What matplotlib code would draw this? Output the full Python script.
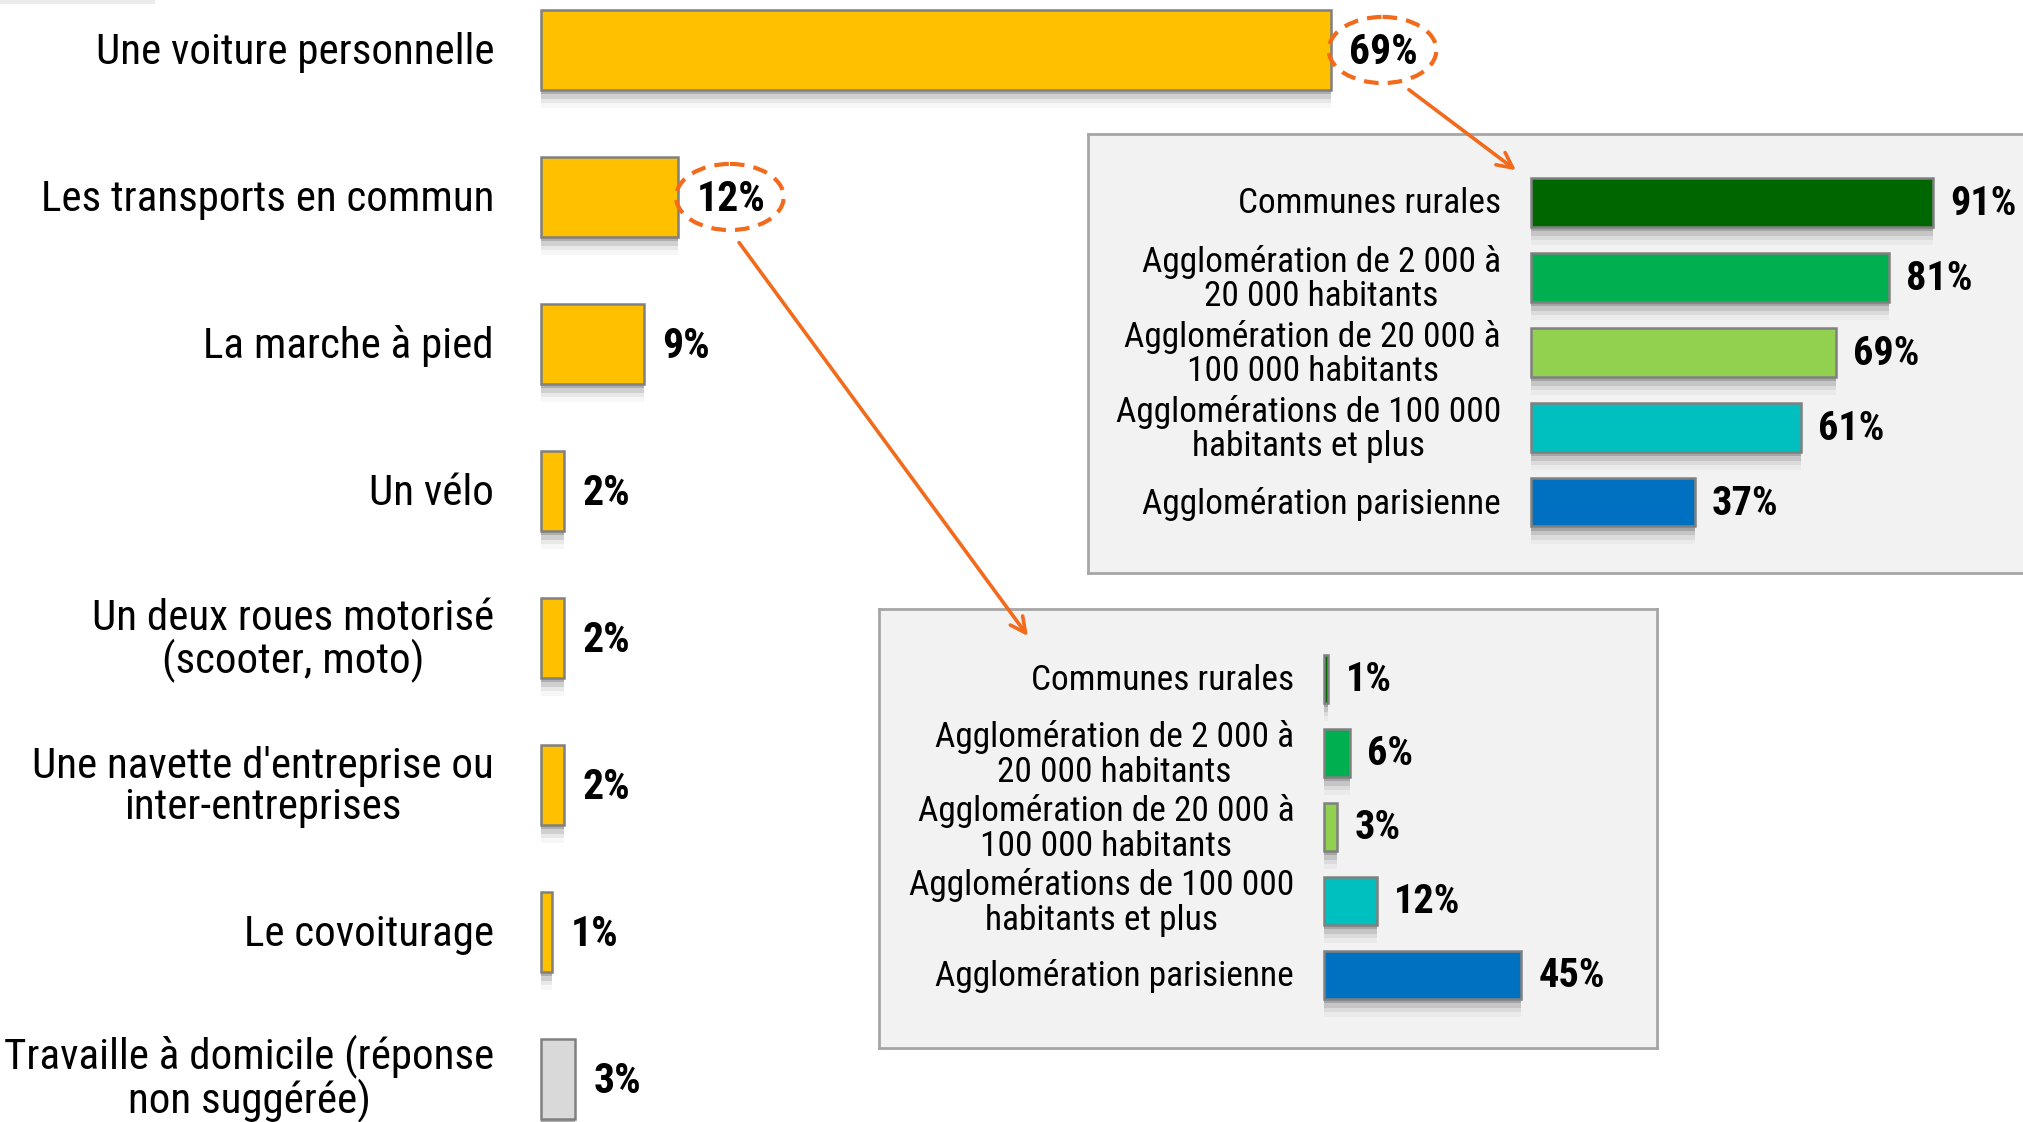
import matplotlib
matplotlib.use("Agg")
import matplotlib.pyplot as plt
import matplotlib.font_manager as fm
from matplotlib.patches import Ellipse, ConnectionPatch, Rectangle

# narrow font if one is installed, otherwise condensed DejaVu
names = {f.name for f in fm.fontManager.ttflist}
narrow = [n for n in ("Liberation Sans Narrow", "Roboto Condensed", "Open Sans Condensed") if n in names]
has_cond = any(f.name == "DejaVu Sans" and f.stretch == "condensed" for f in fm.fontManager.ttflist)
if narrow:
    plt.rcParams['font.family'] = [narrow[0], 'DejaVu Sans']
    scale = 1.0
elif has_cond:
    plt.rcParams['font.family'] = ['DejaVu Sans']
    plt.rcParams['font.stretch'] = 'condensed'
    scale = 0.95
else:
    plt.rcParams['font.family'] = ['DejaVu Sans']
    scale = 0.82

# main chart
modes = ["Une voiture personnelle", "Les transports en commun", "La marche à pied",
         "Un vélo", "Un deux roues motorisé\n(scooter, moto)",
         "Une navette d'entreprise ou\ninter-entreprises", "Le covoiturage",
         "Travaille à domicile (réponse\nnon suggérée)"]
mode_vals = [69, 12, 9, 2, 2, 2, 1, 3]
mode_colors = ["#FFC000"] * 7 + ["#D9D9D9"]

# insets : breakdown by area size
areas = ["Communes rurales", "Agglomération de 2 000 à\n20 000 habitants",
         "Agglomération de 20 000 à\n100 000 habitants",
         "Agglomérations de 100 000\nhabitants et plus", "Agglomération parisienne"]
area_colors = ["#006600", "#00B050", "#92D050", "#00BFBF", "#0070C0"]
car_vals = [91, 81, 69, 61, 37]
transit_vals = [1, 6, 3, 12, 45]

W, H = 2023, 1122
fig = plt.figure(figsize=(W / 100, H / 100), dpi=100)
fig.patch.set_facecolor("white")

ORANGE = "#F26A1B"
EDGE = "#808080"

# faint shadow of a cut-off shape in the top-left corner
fig.add_artist(Rectangle((0, 1 - 4 / H), 155 / W, 4 / H, transform=fig.transFigure,
                         color="black", alpha=0.08, linewidth=0))


def bars_with_shadow(ax, vals, colors, height, shadow):
    y = list(range(len(vals)))
    for k, a in enumerate([0.16, 0.10, 0.06, 0.03]):
        ax.barh([v + shadow * (k + 1) for v in y], vals, height=height, left=0,
                color="black", alpha=a, linewidth=0, zorder=1)
    ax.barh(y, vals, height=height, color=colors, edgecolor=EDGE, linewidth=1.8, zorder=2)


# main axes over the whole figure, 0% at x=541 px, 11.45 px per %
sx = 11.45
ax = fig.add_axes([0, 0, 1, 1])
ax.set_xlim(-541 / sx, (W - 541) / sx)
ax.set_ylim((H - 50) / 147, -50 / 147)
ax.axis("off")
bars_with_shadow(ax, mode_vals, mode_colors, 0.544, 0.03)
for i, (lab, v) in enumerate(zip(modes, mode_vals)):
    dy = 0.015 if i < len(modes) - 1 else 0.0
    ax.text(-4.1, i + dy, lab, ha="right", va="center", fontsize=31 * scale,
            multialignment="center", color="black", linespacing=1.0)
    ax.text(v + 1.6, i + 0.015, f"{v}%", ha="left", va="center", fontsize=30 * scale,
            fontweight="bold", color="black")

# dashed circles around the detailed values
for i in (0, 1):
    v = mode_vals[i]
    ax.add_patch(Ellipse((v + 4.5, i), 9.4, 0.45, fill=False, edgecolor=ORANGE,
                         linestyle=(0, (3.5, 2.2)), linewidth=3, zorder=3))


def inset(rect, x0_px, sxi, cy_px, pitch):
    left, top, right, bottom = rect
    a = fig.add_axes([left / W, 1 - bottom / H, (right - left) / W, (bottom - top) / H])
    a.set_facecolor("#F2F2F2")
    a.set_xlim(-(x0_px - left) / sxi, (right - x0_px) / sxi)
    a.set_ylim((bottom - cy_px) / pitch, (top - cy_px) / pitch)
    a.set_xticks([])
    a.set_yticks([])
    for s in a.spines.values():
        s.set_color("#A6A6A6")
        s.set_linewidth(2)
    return a


top_ax = inset((1088, 134, 2040, 573), 1531, 4.42, 202.5, 74.9)
bot_ax = inset((879, 609, 1657, 1048), 1324, 4.38, 679, 74)

for a, vals in ((top_ax, car_vals), (bot_ax, transit_vals)):
    bars_with_shadow(a, vals, area_colors, 0.65, 0.06)
    for i, (lab, v) in enumerate(zip(areas, vals)):
        a.text(-6.8, i + 0.02, lab, ha="right", va="center", fontsize=25.5 * scale,
               multialignment="center", color="black", linespacing=1.05)
        a.text(v + 3.9, i + 0.02, f"{v}%", ha="left", va="center", fontsize=29 * scale,
               fontweight="bold", color="black")

# arrows from circled values to their breakdown
for (xa, ya), target, (xb, yb) in (((mode_vals[0] + 6.8, 0.27), top_ax, (-3.4, -0.43)),
                                   ((mode_vals[1] + 5.3, 1.31), bot_ax, (-67.6, -0.58))):
    con = ConnectionPatch(xyA=(xa, ya), coordsA=ax.transData,
                          xyB=(xb, yb), coordsB=target.transData,
                          arrowstyle="->,head_length=1.1,head_width=0.55",
                          color=ORANGE, linewidth=2.6, zorder=10)
    fig.add_artist(con)

fig.savefig("out.png", dpi=100, facecolor="white")
